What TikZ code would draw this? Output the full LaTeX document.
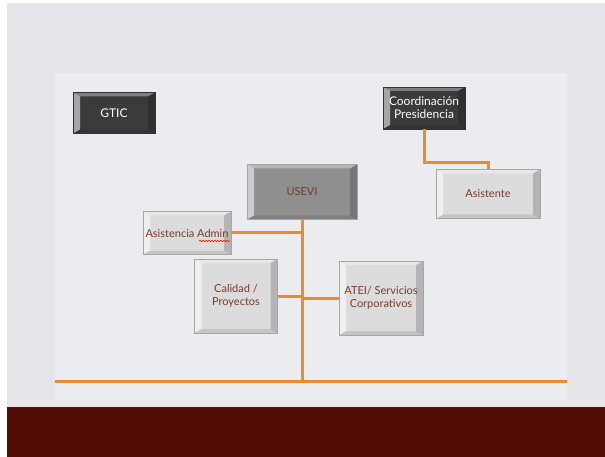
\documentclass[tikz,border=0pt]{standalone}
\usepackage{fontspec}
\setmainfont{Lato}
\usepackage{tikz}
\usetikzlibrary{positioning, calc, decorations.pathmorphing}
\definecolor{fondo}{HTML}{E4E6EA}
\definecolor{panel}{HTML}{EBECEF}
\definecolor{granate}{HTML}{520D05}
\definecolor{naranja}{HTML}{EE8A2E}
\definecolor{oscuro}{HTML}{3B3B3B}
\definecolor{medio}{HTML}{8F8F8F}
\definecolor{claro}{HTML}{DCDCDC}
\definecolor{letra}{HTML}{7A3A30}
\tikzset{
  bisel/.style={path picture={
    \fill[white, opacity=.55] (path picture bounding box.north west) -- (path picture bounding box.south west)
      -- ([shift={(7pt,4pt)}]path picture bounding box.south west) -- ([shift={(7pt,-4pt)}]path picture bounding box.north west) -- cycle;
    \fill[white, opacity=.35] (path picture bounding box.north west) -- (path picture bounding box.north east)
      -- ([shift={(-7pt,-4pt)}]path picture bounding box.north east) -- ([shift={(7pt,-4pt)}]path picture bounding box.north west) -- cycle;
    \fill[black, opacity=.18] (path picture bounding box.north east) -- (path picture bounding box.south east)
      -- ([shift={(-7pt,4pt)}]path picture bounding box.south east) -- ([shift={(-7pt,-4pt)}]path picture bounding box.north east) -- cycle;
    \fill[black, opacity=.10] (path picture bounding box.south west) -- (path picture bounding box.south east)
      -- ([shift={(-7pt,4pt)}]path picture bounding box.south east) -- ([shift={(7pt,4pt)}]path picture bounding box.south west) -- cycle;
  }}
}
\begin{document}
\begin{tikzpicture}[
  x=1pt, y=-1pt,
  font=\fontsize{11}{13}\selectfont,
  caja/.style={draw=black!35, fill=claro, bisel, align=center, text=letra, inner sep=1pt},
  negra/.style={draw=black!80, fill=oscuro, bisel, align=center, text=white,
    font=\fontsize{12}{13}\selectfont, inner sep=1pt},
  linea/.style={naranja, line width=3pt}
]
  \useasboundingbox (0,0) rectangle (605,457);
  \fill[white] (0,0) rectangle (605,457);
  \fill[fondo] (7,3) rectangle (605,457);
  \fill[panel] (55,73) rectangle (567,400);
  \fill[granate] (7,407) rectangle (605,457);

  \node[negra, minimum width=82pt, minimum height=41pt] (gtic) at (114,113) {GTIC};
  \node[negra, minimum width=82pt, minimum height=42pt] (coord) at (424,108)
    {Coordinación\\Presidencia};
  \node[caja, minimum width=104pt, minimum height=49pt] (asis) at (488,194) {Asistente};
  \node[caja, fill=medio, minimum width=110pt, minimum height=55pt] (usevi) at (302,192) {USEVI};
  \node[caja, minimum width=88pt, minimum height=43pt] (admin) at (187,233) {Asistencia Admin};
  \node[caja, minimum width=83pt, minimum height=74pt] (calidad) at (236,296) {Calidad /\\Proyectos};
  \node[caja, minimum width=84pt, minimum height=74pt] (atei) at (381,298)
    {ATEI/ Servicios\\Corporativos};

  \coordinate (izq) at (55,381);
  \coordinate (der) at (567,381);
  \coordinate (base) at (302,381);

  \draw[linea] (izq) -- (der);
  \draw[linea] (usevi.south) -- (base);
  \draw[linea] (admin.east) -- (admin.east -| usevi.south);
  \draw[linea] (calidad.east) -- (calidad.east -| usevi.south);
  \draw[linea] (atei.west) -- (atei.west -| usevi.south);
  \draw[linea] (coord.south) -- ++(0,33) -| (asis.north);

  % subrayado del corrector
  \draw[red, line width=.5pt, decorate, decoration={snake, amplitude=.8pt, segment length=3pt}]
    (199,241) -- (230,241);
\end{tikzpicture}
\end{document}
